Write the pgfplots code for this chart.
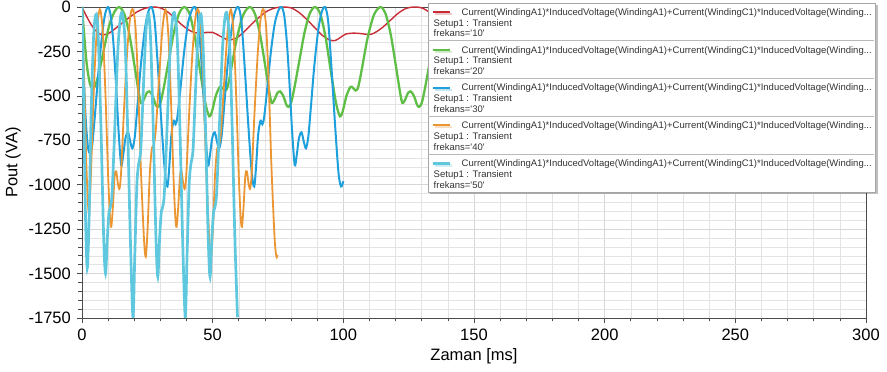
\documentclass[border=0pt]{standalone}
\usepackage{fontspec}
\setmainfont{Liberation Sans}
\usepackage{pgfplots}
\pgfplotsset{compat=1.18}
\usetikzlibrary{shadows}
\definecolor{cRed}{RGB}{200,45,55}
\definecolor{cGreen}{RGB}{95,190,70}
\definecolor{cBlue}{RGB}{30,160,220}
\definecolor{cOrange}{RGB}{235,150,50}
\definecolor{cCyan}{RGB}{95,200,222}
\newcommand{\firstline}{Current(WindingA1)*InducedVoltage(WindingA1)+Current(WindingC1)*InducedVoltage(Winding...}
\newcommand{\legtext}[2]{\begin{tabular}[t]{@{}l@{}}#2\firstline\hspace*{4bp}\\\hspace*{-28bp}Setup1 : Transient\\\hspace*{-28bp}frekans=\textquotesingle#1\textquotesingle\end{tabular}}
\begin{document}
\begin{tikzpicture}
\begin{axis}[
  at={(82bp,54bp)}, anchor=south west,
  scale only axis, width=784bp, height=311bp,
  xmin=0, xmax=300, ymin=-1750, ymax=0,
  xtick={0,50,...,300}, ytick={-1750,-1500,...,0},
  minor x tick num=4, minor y tick num=4,
  scaled ticks=false,
  /pgf/number format/1000 sep={},
  /pgf/number format/assume math mode=true,
  grid=both,
  major grid style={gray!32, line width=0.6bp},
  minor grid style={gray!22, line width=0.5bp},
  axis line style={black!70, line width=0.8bp},
  tick pos=left, tick align=outside,
  major tick length=5bp, minor tick length=3.5bp,
  tick style={black!70, line width=0.7bp},
  tick label style={font=\fontsize{16.5bp}{19bp}\selectfont, text=black},
  yticklabel style={inner sep=0pt, anchor=east, xshift=-6bp},
  xticklabel style={inner sep=0pt, anchor=north, yshift=-6bp},
  label style={font=\fontsize{16.5bp}{19bp}\selectfont},
  xlabel={Zaman [ms]}, ylabel={Pout (VA)},
  xlabel style={at={(axis description cs:0.5,-0.122)}, anchor=center},
  ylabel style={at={(axis description cs:-0.088,0.5)}, anchor=center, rotate=0},
  legend cell align=left,
  legend image code/.code={\path (0bp,0bp); \draw[#1] (4bp,3.3bp) -- (21bp,3.3bp);},
  legend style={at={(0.441,1.013)}, anchor=north west, draw=gray!70, line width=0.6bp, fill=white,
    inner xsep=0pt, inner ysep=1bp, row sep=5.4bp, column sep=10bp,
    cells={anchor=base west}, nodes={inner sep=0pt, text depth=, text height=},
    font=\fontsize{9.5bp}{10.8bp}\selectfont, text=black!80,
    drop shadow={shadow xshift=2bp, shadow yshift=-2bp, opacity=0.25, fill=black}},
]
\addplot[cRed, line width=1.4bp, smooth, tension=0.5] coordinates {
(0,0) (2,-60) (4,-110) (6,-145) (8,-157) (10,-150) (12,-130) (15,-95) (18,-60) (21,-28) (24,-8)
(27,0) (30,-5) (33,-30) (36,-70) (39,-110) (42,-138) (45,-148) (48,-142) (50,-143) (53,-165) (56,-185) (59,-175) (62,-140) (65,-95) (68,-55) (71,-22) (74,-5)
(77,0) (80,-5) (83,-30) (86,-70) (89,-115) (92,-160) (95,-187) (97,-188) (99,-170) (101,-152) (104,-147) (107,-150) (110,-155) (112,-145) (115,-115) (118,-75) (121,-35) (124,-8)
(127,0) (130,-5) (133,-30) (136,-70) (139,-110) (142,-138) (145,-148) (148,-142) (150,-143) (153,-165) (156,-185) (159,-175) (162,-140) (165,-95) (168,-55) (171,-22) (174,-5)
(177,0) (180,-5) (183,-30) (186,-70) (189,-115) (192,-160) (195,-187) (197,-188) (199,-170) (201,-152) (204,-147) (207,-150) (210,-155) (212,-145) (215,-115) (218,-75) (221,-35) (224,-8)
(227,0) (230,-5) (233,-30) (236,-70) (239,-110) (242,-138) (245,-148) (248,-142) (250,-143) (253,-165) (256,-185) (259,-175) (262,-140) (265,-95) (268,-55) (271,-22) (274,-5)
(277,0) (280,-5) (283,-30) (286,-70) (289,-115) (292,-160) (295,-187) (297,-188) (299,-170) (300,-162)
};
\addlegendentry{\legtext{10}{\rule{0pt}{11bp}}}
\addplot[cGreen, line width=2.3bp, smooth, tension=0.5] coordinates {
(0,0) (0.8,-150) (1.8,-320) (3,-430) (4,-457) (5,-445) (6.5,-370) (8.5,-230) (10.5,-100) (12.5,-25)
(14.2,0) (16.2,-40) (18.2,-160) (20.2,-340) (21.7,-480) (22.6,-540) (23.7,-520) (24.7,-485) (25.8,-475) (27,-500) (28.2,-550) (29,-562) (30,-540) (31.2,-460) (33.2,-300) (35.2,-140) (37.2,-35)
(39.2,0) (41.2,-40) (43.2,-170) (45.2,-360) (47.2,-540) (48.7,-615) (49.7,-590) (51.2,-500) (52.7,-450) (53.7,-455) (54.7,-470) (55.7,-450) (57.2,-340) (59.2,-180) (61.7,-45)
(64.2,0) (66.2,-40) (68.2,-160) (70.2,-340) (71.7,-480) (72.6,-540) (73.7,-520) (74.7,-485) (75.8,-475) (77,-500) (78.2,-550) (79,-562) (80,-540) (81.2,-460) (83.2,-300) (85.2,-140) (87.2,-35)
(89.2,0) (91.2,-40) (93.2,-170) (95.2,-360) (97.2,-540) (98.7,-615) (99.7,-590) (101.2,-500) (102.7,-450) (103.7,-455) (104.7,-470) (105.7,-450) (107.2,-340) (109.2,-180) (111.7,-45)
(114.2,0) (116.2,-40) (118.2,-160) (120.2,-340) (121.7,-480) (122.6,-540) (123.7,-520) (124.7,-485) (125.8,-475) (127,-500) (128.2,-550) (129,-562) (130,-540) (131.2,-460) (133.2,-300) (135.2,-140) (137.2,-35)
(139.2,0) (141.2,-40) (143.2,-170) (145.2,-360) (147.2,-540) (148.7,-615) (149.7,-590) (150,-580)
};
\addlegendentry{\legtext{20}{}}
\addplot[cBlue, line width=2bp, smooth, tension=0.5] coordinates {
(0,-150) (0.7,-400) (1.5,-650) (2.3,-790) (3.1,-825) (3.9,-780) (5,-600) (6.5,-330) (8,-120) (9,-30)
(10,0) (11,-50) (12,-200) (13,-430) (14,-700) (15,-890) (15.8,-830) (16.6,-740) (17.6,-705) (18.5,-760) (19.3,-795) (20.2,-730) (21.2,-560) (22.5,-330) (24,-130) (25.3,-30)
(26.6,0) (27.8,-80) (29.1,-350) (30.6,-700) (31.8,-940) (32.7,-1010) (33.4,-900) (34.2,-720) (35.1,-640) (35.8,-660) (36.5,-620) (37.6,-470) (39.1,-250) (40.6,-90) (42.1,-15)
(43.2,0) (44.2,-50) (45.2,-200) (46.2,-430) (47.2,-700) (48.2,-890) (49,-830) (49.8,-740) (50.8,-705) (51.7,-760) (52.5,-795) (53.4,-730) (54.4,-560) (55.7,-330) (57.2,-130) (58.5,-30)
(59.8,0) (61,-80) (62.3,-350) (63.8,-700) (65,-940) (65.9,-1010) (66.6,-900) (67.4,-720) (68.3,-640) (69,-660) (69.7,-620) (70.8,-470) (72.3,-250) (73.8,-90) (75.3,-15)
(76.4,0) (77.4,-50) (78.4,-200) (79.4,-430) (80.4,-700) (81.4,-890) (82.2,-830) (83,-740) (84,-705) (84.9,-760) (85.7,-795) (86.6,-730) (87.6,-560) (88.9,-330) (90.4,-130) (91.7,-30)
(93,0) (94.2,-80) (95.5,-350) (97,-700) (98.2,-940) (99.1,-1010) (99.6,-1000) (100,-980)
};
\addlegendentry{\legtext{30}{}}
\addplot[cOrange, line width=1.8bp, smooth, tension=0.5] coordinates {
(0,0) (0.8,-400) (1.7,-900) (2.6,-1160) (3.4,-950) (4.3,-550) (5.3,-220) (6.2,-60)
(7,-15) (8,-150) (9,-500) (10,-950) (10.7,-1180) (11.2,-1237) (11.8,-1130) (12.5,-950) (13.1,-925) (13.8,-1000) (14.4,-1020) (15,-920) (16,-600) (17.3,-250) (18.5,-50)
(19.5,-15) (20.5,-120) (21.5,-450) (22.5,-900) (23.7,-1300) (24.4,-1405) (25.1,-1250) (25.9,-950) (26.7,-800) (27.4,-780) (28.2,-700) (29.5,-400) (30.8,-120)
(32,-15) (33,-150) (34,-500) (35,-950) (35.7,-1180) (36.2,-1237) (36.8,-1130) (37.5,-950) (38.1,-925) (38.8,-1000) (39.4,-1020) (40,-920) (41,-600) (42.3,-250) (43.5,-50)
(44.5,-15) (45.5,-120) (46.5,-450) (47.5,-900) (48.7,-1300) (49.4,-1405) (50.1,-1250) (50.9,-950) (51.7,-800) (52.4,-780) (53.2,-700) (54.5,-400) (55.8,-120)
(57,-15) (58,-150) (59,-500) (60,-950) (60.7,-1180) (61.2,-1237) (61.8,-1130) (62.5,-950) (63.1,-925) (63.8,-1000) (64.4,-1020) (65,-920) (66,-600) (67.3,-250) (68.5,-50)
(69.5,-15) (70.5,-120) (71.5,-450) (72.5,-900) (73.7,-1300) (74.4,-1405) (74.8,-1395)
};
\addlegendentry{\legtext{40}{}}
\addplot[cCyan, line width=2.7bp, smooth, tension=0.5] coordinates {
(0,0) (0.6,-500) (1.3,-1150) (2,-1470) (2.7,-1200) (3.5,-600) (4.5,-150)
(5.5,-40) (6.3,-200) (7.3,-700) (8.3,-1300) (9,-1500) (9.7,-1300) (10.3,-1160) (10.8,-1130) (11.5,-1050) (12.5,-700) (13.7,-250) (14.7,-60)
(15.5,-40) (16.5,-200) (17.5,-700) (18.5,-1300) (19.5,-1745) (20.2,-1400) (21,-1000) (21.7,-880) (22.5,-800) (23.5,-450) (24.5,-130)
(25.5,-40) (26.3,-200) (27.3,-700) (28.3,-1300) (29,-1518) (29.7,-1300) (30.3,-1160) (30.8,-1130) (31.5,-1050) (32.5,-700) (33.7,-250) (34.7,-60)
(35.5,-40) (36.5,-200) (37.5,-700) (38.5,-1300) (39.5,-1745) (40.2,-1400) (41,-1000) (41.7,-880) (42.5,-800) (43.5,-450) (44.5,-130)
(45.5,-40) (46.3,-200) (47.3,-700) (48.3,-1300) (49,-1518) (49.7,-1300) (50.3,-1160) (50.8,-1130) (51.5,-1050) (52.5,-700) (53.7,-250) (54.7,-60)
(55.5,-40) (56.5,-200) (57.5,-700) (58.5,-1300) (59.5,-1745)
};
\addlegendentry{\legtext{50}{}}
\end{axis}
\foreach \yy in {331.24,293.44,255.64,217.84}
  \draw[gray!55, line width=0.6bp] (427.7bp,\yy bp) -- (873.7bp,\yy bp);
\pgfresetboundingbox
\path (0,0) rectangle (887bp,372bp);
\end{tikzpicture}
\end{document}
